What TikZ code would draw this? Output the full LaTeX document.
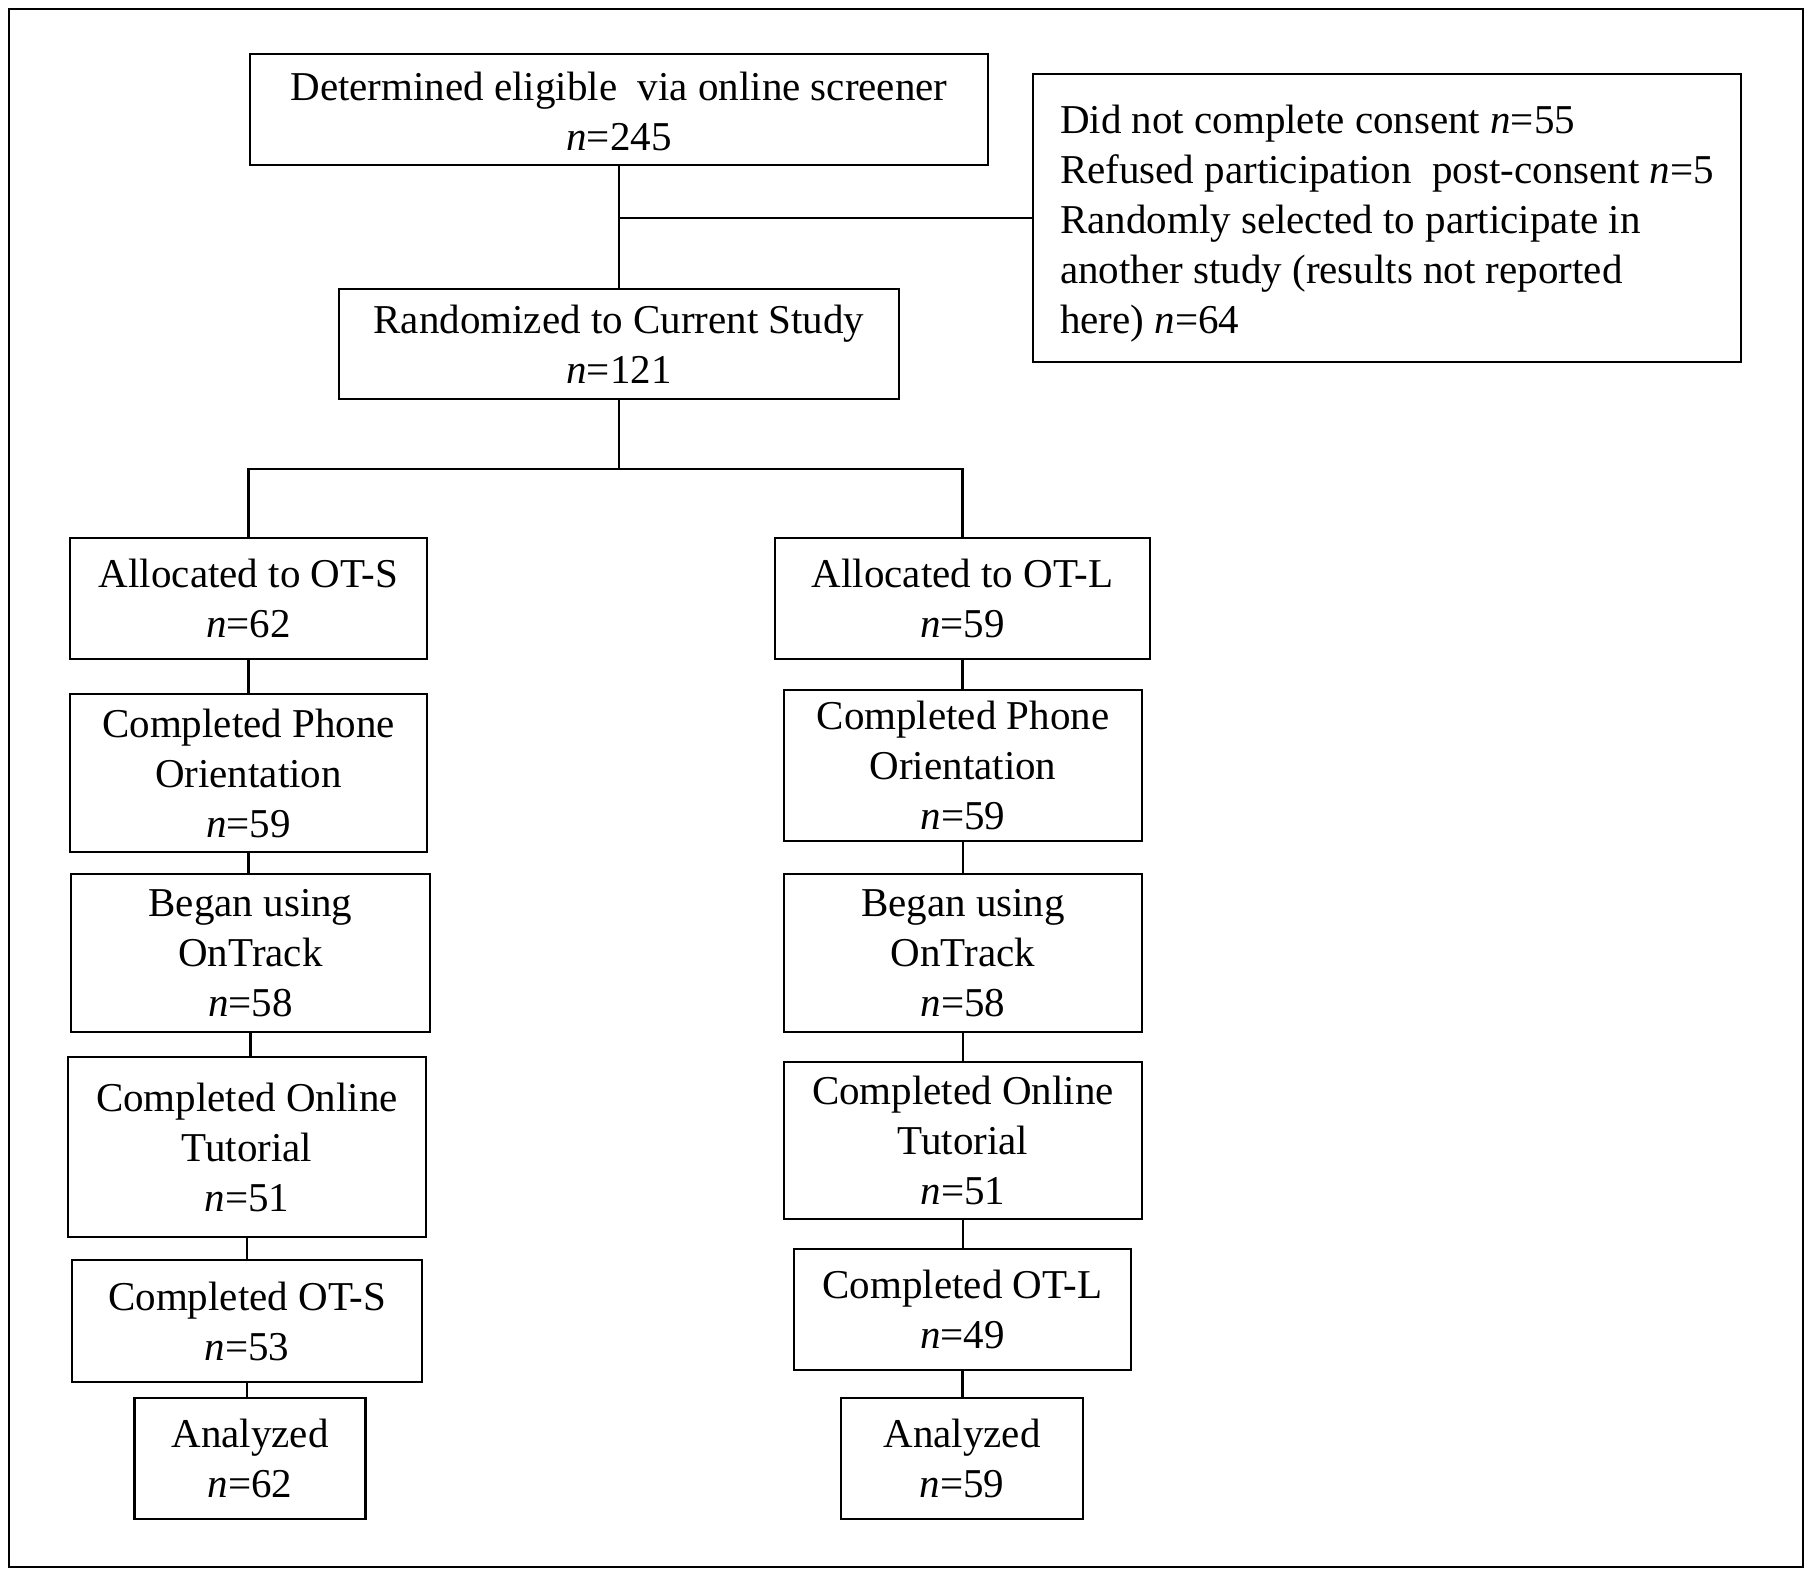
\documentclass[tikz,border=0pt]{standalone}
\usepackage{fontspec}
\setmainfont{Liberation Serif}
\begin{document}
\begin{tikzpicture}[x=1pt,y=-1pt,
  box/.style={draw, line width=2.8pt, inner sep=0pt, align=center,
    font=\fontsize{41}{50}\selectfont},
  conn/.style={line width=2.6pt}]
\useasboundingbox (0,0) rectangle (1810,1576);
\draw[line width=2.4pt] (9,9) rectangle (1803,1567);
% top
\node[box, minimum width=738, minimum height=111] (elig) at (619,109.5)
  {\rule{0pt}{32pt}Determined eligible\ \ via online screener\\\textit{n}=245};
\node[box, align=left, inner xsep=27pt, minimum width=708, minimum height=288] (side) at (1387,218)
  {\rule{0pt}{40pt}Did not complete consent \textit{n}=55\\
   Refused participation\ \ post-consent \textit{n}=5\\
   Randomly selected to participate in\\
   another study (results not reported\\
   here) \textit{n}=64};
\node[box, minimum width=560, minimum height=110] (rand) at (619,344)
  {Randomized to Current Study\\\textit{n}=121};
\draw[conn] (elig.south) -- (rand.north);
\draw[conn] (elig.south |- side.west) -- (side.west);
% left column
\node[box, minimum width=357, minimum height=121] (a1) at (248.5,598.5)
  {Allocated to OT-S\\\textit{n}=62};
\node[box, minimum width=357, minimum height=158] (p1) at (248.5,773)
  {Completed Phone\\Orientation\\\textit{n}=59};
\node[box, minimum width=359, minimum height=158] (b1) at (250.5,953)
  {Began using\\OnTrack\\\textit{n}=58};
\node[box, minimum width=358, minimum height=180] (t1) at (247,1147)
  {Completed Online\\Tutorial\\\textit{n}=51};
\node[box, minimum width=350, minimum height=122] (c1) at (247,1321)
  {Completed OT-S\\\textit{n}=53};
\node[box, minimum width=231, minimum height=121] (an1) at (250,1458.5)
  {Analyzed\\\textit{n}=62};
% right column
\node[box, minimum width=375, minimum height=121] (a2) at (962.5,598.5)
  {Allocated to OT-L\\\textit{n}=59};
\node[box, minimum width=358, minimum height=151] (p2) at (963,765.5)
  {Completed Phone\\Orientation\\\textit{n}=59};
\node[box, minimum width=358, minimum height=158] (b2) at (963,953)
  {Began using\\OnTrack\\\textit{n}=58};
\node[box, minimum width=358, minimum height=157] (t2) at (963,1140.5)
  {Completed Online\\Tutorial\\\textit{n}=51};
\node[box, minimum width=337, minimum height=121] (c2) at (962.5,1309.5)
  {Completed OT-L\\\textit{n}=49};
\node[box, minimum width=242, minimum height=121] (an2) at (962,1458.5)
  {Analyzed\\\textit{n}=59};
% branch
\coordinate (br) at (619,469);
\draw[conn] (rand.south) -- (br);
\draw[conn] (a1.north) |- (br) -| (a2.north);
% column connectors
\foreach \u/\v in {a1/p1,p1/b1,b1/t1,t1/c1,c1/an1,a2/p2,p2/b2,b2/t2,t2/c2,c2/an2}
  \draw[conn] (\u.south) -- (\u.south |- \v.north);
\end{tikzpicture}
\end{document}
